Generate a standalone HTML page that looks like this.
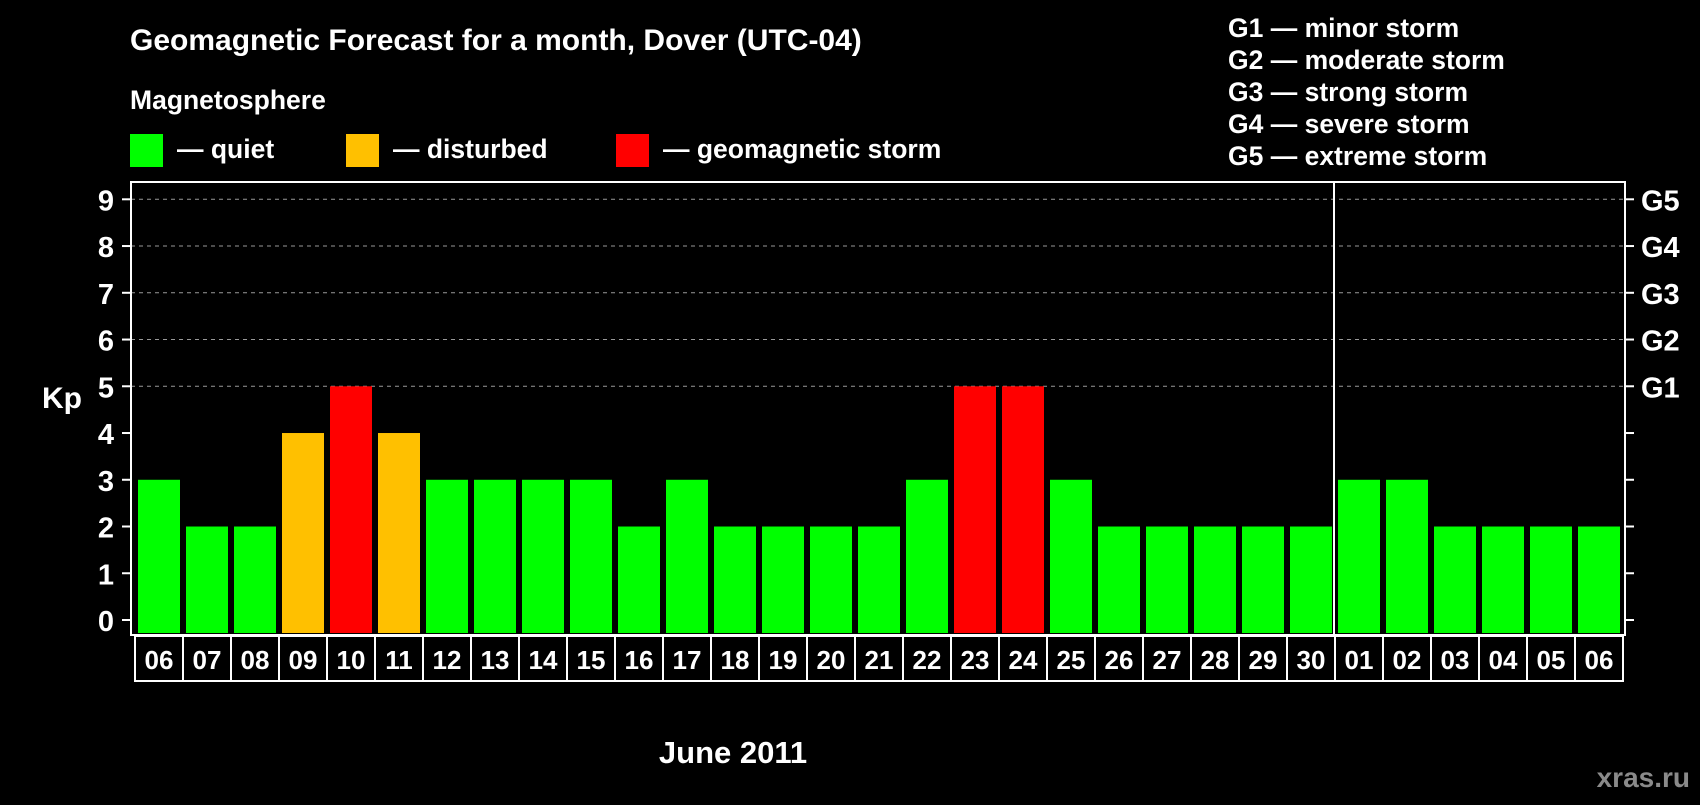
<!DOCTYPE html>
<html><head><meta charset="utf-8"><style>
body{margin:0;background:#000;width:1700px;height:800px;overflow:hidden;font-family:"Liberation Sans",sans-serif;}
svg text{font-family:"Liberation Sans",sans-serif;font-weight:bold;fill:#fff;}
</style></head><body>
<svg id="chart" width="1700" height="800" xmlns="http://www.w3.org/2000/svg">
<text x="130" y="50" font-size="30">Geomagnetic Forecast for a month, Dover (UTC-04)</text>
<text x="130" y="109" font-size="26.5">Magnetosphere</text>
<g><rect x="130" y="134" width="33" height="33" fill="#00ff00"/><text x="177" y="158" font-size="26.5">— quiet</text></g>
<g><rect x="346" y="134" width="33" height="33" fill="#ffc000"/><text x="393" y="158" font-size="26.5">— disturbed</text></g>
<g><rect x="616" y="134" width="33" height="33" fill="#ff0000"/><text x="663" y="158" font-size="26.5">— geomagnetic storm</text></g>
<g font-size="26.5">
<text x="1228" y="37">G1 — minor storm</text>
<text x="1228" y="69">G2 — moderate storm</text>
<text x="1228" y="101">G3 — strong storm</text>
<text x="1228" y="133">G4 — severe storm</text>
<text x="1228" y="165">G5 — extreme storm</text>
</g>
<text x="42" y="408" font-size="30">Kp</text>
<text x="733" y="763" font-size="31" text-anchor="middle">June 2011</text>
<text x="1690" y="787" font-size="28" text-anchor="end" style="fill:#8a8a8a">xras.ru</text>
<g id="grid"></g><g id="bars"></g><g id="axes"></g>
</svg>
<script>
const days=["06","07","08","09","10","11","12","13","14","15","16","17","18","19","20","21","22","23","24","25","26","27","28","29","30","01","02","03","04","05","06"];
const kp=[3,2,2,4,5,4,3,3,3,3,2,3,2,2,2,2,3,5,5,3,2,2,2,2,2,3,3,2,2,2,2];
const yTicks=[0,1,2,3,4,5,6,7,8,9];
const gLabels=["G1","G2","G3","G4","G5"];
const gLevels=[5,6,7,8,9];
const monthBreakIndex=25;
const NS="http://www.w3.org/2000/svg";
const L=131,R=1625,T=182,B=635,Y0=620,Y9=199.3;
const pitch=(R-L-6)/days.length;
const y=v=>Y0-(Y0-Y9)*v/9;
const x=i=>L+4+i*pitch;
function mk(t,a,p){const e=document.createElementNS(NS,t);for(const k in a)e.setAttribute(k,a[k]);p.appendChild(e);return e;}
const grid=document.getElementById('grid'),bars=document.getElementById('bars'),axes=document.getElementById('axes');
gLevels.forEach(v=>{const l=mk('line',{x1:L,x2:R,y1:y(v),y2:y(v),stroke:'#999','stroke-dasharray':'4 4','stroke-width':1},grid);

});
kp.forEach((v,i)=>{const c=v>=5?'#ff0000':(v>=4?'#ffc000':'#00ff00');
const r=mk('rect',{x:x(i)+3,y:y(v),width:pitch-6,height:B-2-y(v),fill:c},bars);


const b=mk('rect',{x:x(i),y:B+1,width:pitch,height:45,fill:'none',stroke:'#fff','stroke-width':2},axes);


const t=mk('text',{x:x(i)+pitch/2,y:B+34,'font-size':26,'text-anchor':'middle'},axes);t.textContent=days[i];

});
const fr=mk('rect',{x:L,y:T,width:R-L,height:B-T,fill:'none',stroke:'#fff','stroke-width':2},axes);


const sx=x(monthBreakIndex)-1;
const sep=mk('line',{x1:sx,x2:sx,y1:T,y2:B,stroke:'#fff','stroke-width':2},axes);


yTicks.forEach(v=>{mk('line',{x1:L-9,x2:L,y1:y(v),y2:y(v),stroke:'#fff','stroke-width':2},axes);
mk('line',{x1:R,x2:R+9,y1:y(v),y2:y(v),stroke:'#fff','stroke-width':2},axes);
const t=mk('text',{x:106,y:y(v)+11,'font-size':29,'text-anchor':'middle'},axes);t.textContent=v;

});
gLevels.forEach((v,i)=>{const t=mk('text',{x:1641,y:y(v)+11,'font-size':29},axes);t.textContent=gLabels[i];

});
</script>
</body></html>
